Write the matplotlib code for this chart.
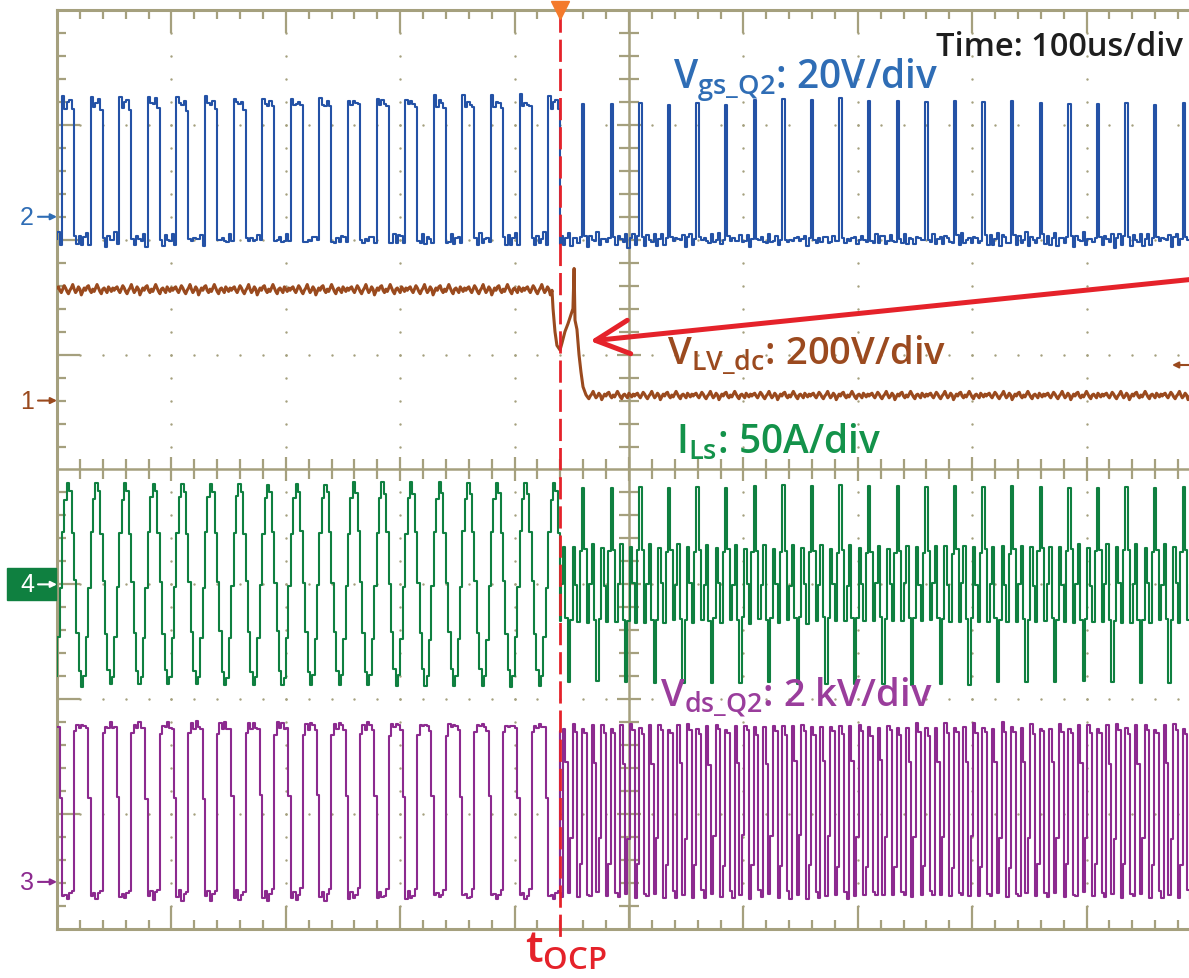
import numpy as np
import matplotlib.pyplot as plt
from matplotlib.patches import Rectangle, FancyArrowPatch

W, H = 1189, 979

# scope settings: 100 us/div over 10 div, 8 vertical div, traces in div
T_SW = 25.0          # switching period (us)
DT = T_SW / 12       # sample spacing (us)
T_OCP = 440.0        # over-current trip (us)
T_GATE = 4.4         # first gate rising edge (us)
T_SPIKE = 459.0      # first short gate pulse after the trip (us)

# Ch2 Vgs_Q2, one switching period before / after the trip
vgs_pre = [3.24, 3.17, 3.19, 3.20, 3.15, 2.00, 1.97, 2.03, 1.98, 2.01, 2.04, 1.97]
vgs_post = [3.20, 2.02, 1.97, 2.03, 1.98, 2.00, 2.04, 1.96, 2.01, 2.03, 1.97, 2.00]
# Ch4 ILs
ils_pre = [-0.55, -0.25, -0.12, -0.20, -0.55, -0.98, -1.42, -1.75, -1.88, -1.80, -1.47, -1.02]
ils_post = [-0.15, -0.70, -1.32, -1.00, -0.66, -1.30, -1.86, -1.30, -0.68, -1.00, -1.33, -0.72]
# Ch3 Vds_Q2
vds_pre = [-3.72, -3.68, -3.74, -3.70, -3.66, -2.30, -2.22, -2.25, -2.21, -2.24, -2.26, -2.85]
vds_post = [-2.25, -2.30, -3.68, -3.72, -2.24, -2.55, -3.70, -3.20, -2.22, -2.28, -3.72, -3.45]
# sample-to-sample noise (div)
ripple = [0.00, 0.04, -0.03, 0.02, -0.05, 0.01, 0.03, -0.02, 0.05, -0.01,
          0.00, -0.04, 0.02, 0.03, -0.03, 0.01, -0.02]

# Ch1 VLV_dc: levels and the trip transient
vdc_before = 1.56
vdc_after = 0.64
vdc_trip_t = [432.7, 433.6, 435.3, 437.0, 439.7, 441.4, 444.0, 446.7, 449.3,
              451.0, 452.0, 452.8, 454.5, 456.3, 458.0, 459.8, 462.4]
vdc_trip_v = [1.56, 1.40, 1.20, 1.08, 1.04, 1.10, 1.20, 1.27, 1.35,
              1.40, 1.75, 1.30, 1.22, 1.00, 0.85, 0.72, 0.65]
VDC_STEP = 1.25
vdc_ripple = [0.02, 0.03, 0.00, -0.02, 0.01, 0.04, 0.02, -0.01, -0.03, 0.00,
              0.02, 0.05, 0.01, -0.02, 0.00, 0.03, 0.01, -0.04, -0.01, 0.02,
              0.00, 0.03, 0.04, 0.00, -0.02, 0.01, -0.01, 0.02, 0.05, 0.02,
              -0.01, -0.03, 0.01, 0.02, 0.00, -0.02, 0.03, 0.01, -0.01, 0.02, 0.00]

# ground markers on the left edge
marker_names = ['2', '1', '4', '3']
marker_levels = [2.2, 0.6, -1.0, -3.59]

C_VGS, C_VDC, C_ILS, C_VDS = '#2452a6', '#9a4a1e', '#0f8040', '#8c2a8f'
L_VGS, L_VDC, L_ILS, L_VDS = '#2f6db5', '#9b4a1f', '#13924a', '#9a3d9c'
C_RED = '#e5222a'
C_GRID = '#a5a07e'


def tile(template, t_ref, t_from, t_to):
    k = np.arange(np.floor((t_from - t_ref) / DT), np.ceil((t_to - t_ref) / DT)).astype(int)
    t = t_ref + k * DT
    v = np.take(template, k, mode='wrap')
    t[0] = t_from
    return t, v


def trace(pre, post, noise):
    t1, v1 = tile(pre, T_GATE, 0, T_OCP)
    t2, v2 = tile(post, T_SPIKE, T_OCP, 1000)
    t = np.concatenate([t1, t2, [1000]])
    v = np.concatenate([v1, v2, [v2[-1]]])
    v = v + noise * np.take(ripple, np.arange(len(v)), mode='wrap')
    return t, v


def px(x, y):
    return x / W, 1 - y / H


def fig_arrow(x0, x1, y, col, lw=1.5, ms=9):
    fig.add_artist(FancyArrowPatch(px(x0, y), px(x1, y), transform=fig.transFigure,
                                   arrowstyle='-|>', color=col, lw=lw,
                                   mutation_scale=ms, shrinkA=0, shrinkB=0, zorder=6))


fig = plt.figure(figsize=(W / 100, H / 100), dpi=100)
ax = fig.add_axes([57 / W, 1 - 930 / H, 1144 / W, 919 / H])
ax.set_xlim(0, 1000)
ax.set_ylim(-4, 4)
ax.set_xticks([])
ax.set_yticks([])
for s in ax.spines.values():
    s.set_color(C_GRID)
    s.set_linewidth(2.2)

# graticule
ux = 1000 / 1144   # us per pixel
uy = 8 / 919       # div per pixel
ax.axvline(500, color=C_GRID, lw=1.8, zorder=1)
ax.axhline(0, color=C_GRID, lw=1.8, zorder=1)
cols = [x for x in range(100, 1000, 100) if x != 500]
dots_y = np.arange(-3.8, 3.81, 0.2)
for x in cols:
    ax.scatter(np.full(len(dots_y), x), dots_y, s=3, color=C_GRID, lw=0, zorder=1)
rows = [y for y in range(-3, 4) if y != 0]
dots_x = np.arange(20, 1000, 20)
for y in rows:
    ax.scatter(dots_x, np.full(len(dots_x), y), s=3, color=C_GRID, lw=0, zorder=1)

minor_x = [x for x in range(20, 1000, 20) if x % 100]
major_x = list(range(100, 1000, 100))
ax.vlines(minor_x, 4 - 9 * uy, 4, color=C_GRID, lw=1.6, zorder=1)
ax.vlines(minor_x, -4, -4 + 9 * uy, color=C_GRID, lw=1.6, zorder=1)
ax.vlines(major_x, 4 - 23 * uy, 4, color=C_GRID, lw=1.6, zorder=1)
ax.vlines(major_x, -4, -4 + 23 * uy, color=C_GRID, lw=1.6, zorder=1)
ax.vlines(minor_x, -10 * uy, 10 * uy, color=C_GRID, lw=1.6, zorder=1)
ax.vlines(major_x, -12 * uy, 12 * uy, color=C_GRID, lw=1.6, zorder=1)
minor_y = [y / 5 for y in range(-19, 20) if y % 5]
major_y = [y for y in range(-3, 4) if y]
ax.hlines(minor_y, 0, 9 * ux, color=C_GRID, lw=1.6, zorder=1)
ax.hlines(major_y, 0, 23 * ux, color=C_GRID, lw=1.6, zorder=1)
ax.hlines(minor_y, 500 - 10 * ux, 500 + 10 * ux, color=C_GRID, lw=1.6, zorder=1)
ax.hlines(major_y, 500 - 12 * ux, 500 + 12 * ux, color=C_GRID, lw=1.6, zorder=1)

# traces
t, v = trace(vgs_pre, vgs_post, 0.6)
ax.plot(t, v, drawstyle='steps-post', color=C_VGS, lw=1.5, zorder=3)

t_a = np.arange(0, vdc_trip_t[0], VDC_STEP)
v_a = vdc_before + np.take(vdc_ripple, np.arange(len(t_a)), mode='wrap')
t_b = np.arange(vdc_trip_t[-1] + VDC_STEP, 1000 + VDC_STEP, VDC_STEP)
v_b = vdc_after + 0.8 * np.take(vdc_ripple, np.arange(len(t_b)) + 7, mode='wrap')
ax.plot(np.concatenate([t_a, vdc_trip_t, t_b]), np.concatenate([v_a, vdc_trip_v, v_b]),
        color=C_VDC, lw=2.2, zorder=3)

t, v = trace(ils_pre, ils_post, 0.3)
ax.plot(t, v, drawstyle='steps-post', color=C_ILS, lw=1.5, zorder=3)

t, v = trace(vds_pre, vds_post, 0.4)
ax.plot(t, v, drawstyle='steps-post', color=C_VDS, lw=1.5, zorder=3)

# trip instant
ax.plot([T_OCP, T_OCP], [4, -4.1], color=C_RED, lw=2, ls=(0, (8, 2.5)), clip_on=False, zorder=5)
ax.plot([T_OCP], [4.0], marker='v', ms=13, color='#f47a2b', clip_on=False, zorder=6)

# channel markers
mk_colors = [L_VGS, C_VDC, 'white', C_VDS]
for name, lev, col in zip(marker_names, marker_levels, mk_colors):
    y_px = 470.5 - lev * 919 / 8
    if name == '4':
        fig.add_artist(Rectangle(px(7, y_px + 16), 49 / W, 32 / H, transform=fig.transFigure,
                                 color=C_ILS, zorder=4))
    fig.text(*px(27, y_px), name, color=col, fontsize=18, family='Liberation Sans',
             ha='center', va='center', zorder=7)
    fig_arrow(38, 57, y_px, col)
fig_arrow(1200, 1172, 366, C_VDC)

# arrow to the DC-link dip
fig.add_artist(FancyArrowPatch(px(1205, 279), px(590, 342), transform=fig.transFigure,
                               arrowstyle='->,head_length=1.1,head_width=0.55', color=C_RED,
                               lw=3.6, mutation_scale=22, shrinkA=0, shrinkB=0, zorder=6))

# labels
font = dict(family='Open Sans', weight='semibold', va='baseline', ha='left', zorder=7)
fig.text(*px(936, 56), 'Time: 100us/div', color='#1e1e1e', fontsize=23.5, **font)
fig.text(*px(673, 88), r'$\mathregular{V_{gs\_Q2}}$: 20V/div', color=L_VGS, fontsize=28, **font)
fig.text(*px(667, 365), r'$\mathregular{V_{LV\_dc}}$: 200V/div', color=L_VDC, fontsize=27.5, **font)
fig.text(*px(676, 453), r'$\mathregular{I_{Ls}}$: 50A/div', color=L_ILS, fontsize=28, **font)
fig.text(*px(660, 707), r'$\mathregular{V_{ds\_Q2}}$: 2 kV/div', color=L_VDS, fontsize=27.5, **font)
fig.text(*px(525, 963), r'$\mathregular{t_{OCP}}$', color=C_RED, fontsize=32, **font)

fig.savefig('out.png', dpi=100)
